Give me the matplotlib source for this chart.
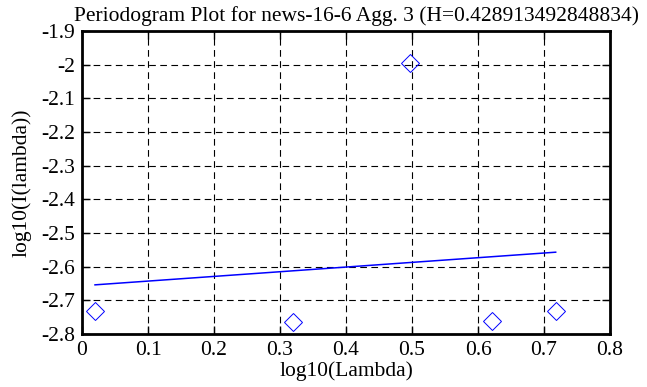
import numpy as np
import matplotlib.pyplot as plt
from matplotlib.ticker import FuncFormatter

plt.rcParams['font.family'] = ['Liberation Serif', 'DejaVu Serif']

# puntos del periodograma
log_lambda = [0.0197, 0.3197, 0.497, 0.6217, 0.7177]
log_I = [-2.732, -2.764, -1.994, -2.761, -2.731]

# recta ajustada
fit_x = [0.0197, 0.7177]
fit_y = [-2.654, -2.557]

xticks = [0, 0.1, 0.2, 0.3, 0.4, 0.5, 0.6, 0.7, 0.8]
yticks = [-2.8, -2.7, -2.6, -2.5, -2.4, -2.3, -2.2, -2.1, -2.0, -1.9]

fs = 15.5

fig = plt.figure(figsize=(6.47, 3.87), dpi=100)
ax = fig.add_axes([82 / 647, 1 - 334 / 387, 528 / 647, 303 / 387])

ax.plot(log_lambda, log_I, linestyle="none", marker="D", markersize=9.5,
        markerfacecolor="none", markeredgecolor="blue", markeredgewidth=0.7)
ax.plot(fit_x, fit_y, color="blue", linewidth=1.1)

ax.set_xlim(0, 0.8)
ax.set_ylim(-2.8, -1.9)
ax.set_xticks(xticks)
ax.set_yticks(yticks)
fmt = FuncFormatter(lambda v, p: ("%g" % round(v, 3)).replace("\u2212", "-"))
ax.xaxis.set_major_formatter(fmt)
ax.yaxis.set_major_formatter(fmt)

ax.grid(color="black", linestyle=(0, (6, 4)), linewidth=0.8)
ax.tick_params(direction="in", length=6, width=1, top=True, right=True,
               labelsize=fs, colors="black", pad=5)
for s in ax.spines.values():
    s.set_linewidth(2)

ax.set_xlabel("log10(Lambda)", fontsize=fs, labelpad=1)
ax.set_ylabel("log10(I(lambda))", fontsize=fs, labelpad=7)
ax.set_title("Periodogram Plot for news-16-6 Agg. 3 (H=0.428913492848834)",
             fontsize=fs, pad=7, x=0.52)

fig.savefig("out.png", dpi=100)
